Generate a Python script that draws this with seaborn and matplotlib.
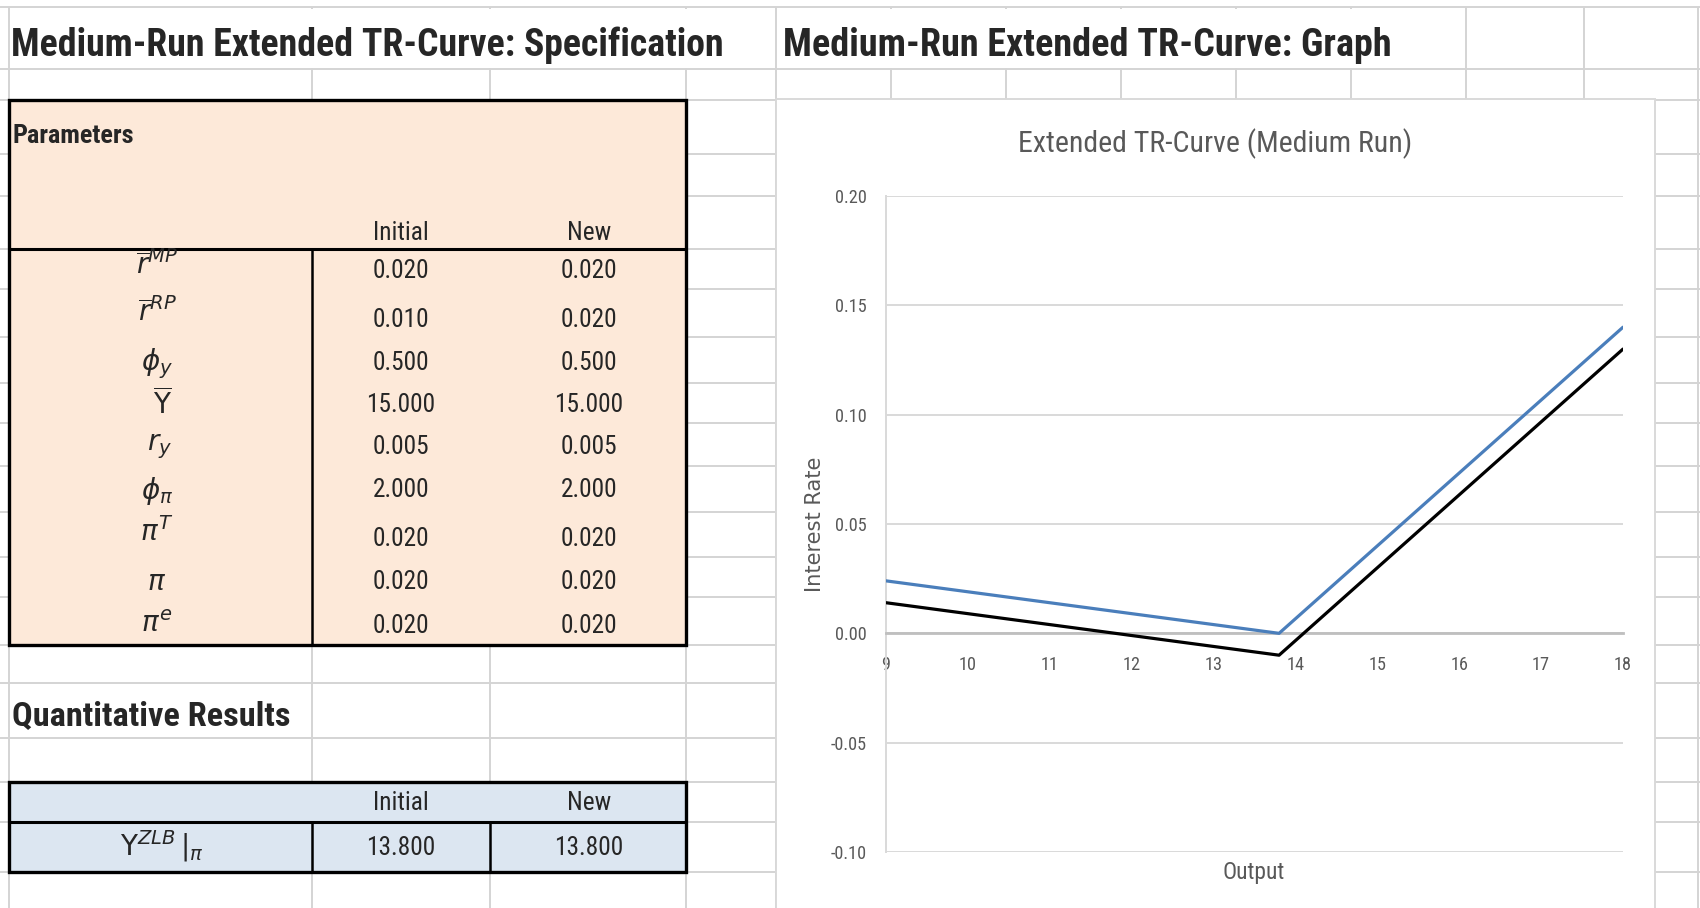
import numpy as np
import pandas as pd
import matplotlib
matplotlib.use("Agg")
import matplotlib.pyplot as plt
import seaborn as sns
from matplotlib import font_manager
from matplotlib.patches import Rectangle

# ---------------- data ----------------
output_pts = [9.0, 13.8, 18.0]
r_initial = [0.014, -0.010, 0.130]
r_new = [0.024, 0.000, 0.140]
series_names = ["Initial", "New"]
y_ticks = [-0.10, -0.05, 0.00, 0.05, 0.10, 0.15, 0.20]
x_ticks = [9, 10, 11, 12, 13, 14, 15, 16, 17, 18]

param_symbols = [r"$\overline{r}^{MP}$", r"$\overline{r}^{RP}$", r"$\phi_y$", r"$\overline{\mathrm{Y}}$",
                 r"$r_y$", r"$\phi_\pi$", r"$\pi^T$", r"$\pi$", r"$\pi^e$"]
param_initial = [0.020, 0.010, 0.500, 15.000, 0.005, 2.000, 0.020, 0.020, 0.020]
param_new = [0.020, 0.020, 0.500, 15.000, 0.005, 2.000, 0.020, 0.020, 0.020]
result_symbol = r"$\mathrm{Y}^{ZLB}\,|_{\pi}$"
result_initial = [13.800]
result_new = [13.800]

left_title = "Medium-Run Extended TR-Curve: Specification"
right_title = "Medium-Run Extended TR-Curve: Graph"
chart_title = "Extended TR-Curve (Medium Run)"

# ---------------- style ----------------
sns.set_style("white")
names = {f.name for f in font_manager.fontManager.ttflist}
NARROW = next((n for n in ["Liberation Sans Narrow", "Roboto Condensed", "Open Sans Condensed"]
               if n in names), "Liberation Sans")
plt.rcParams["font.family"] = [NARROW, "DejaVu Sans"]
plt.rcParams["mathtext.fontset"] = "dejavusans"

W, H = 1700, 908
fig = plt.figure(figsize=(17, 9.08), dpi=100)
renderer = fig.canvas.get_renderer()


def size_for(s, w, family=None, weight="normal", base=20.0):
    t = fig.text(0, 0, s, fontsize=base, family=family or [NARROW, "DejaVu Sans"], weight=weight)
    bb = t.get_window_extent(renderer)
    t.remove()
    return base * w / bb.width


bg = fig.add_axes([0, 0, 1, 1], zorder=0)
bg.set_xlim(0, W)
bg.set_ylim(H, 0)
bg.axis("off")

GRID = "#D4D4D4"
rows = [7, 69, 100, 154, 196, 249, 289, 337, 383, 423, 466, 512, 557, 597, 645, 683, 738, 782, 822, 872]
cols = [9, 312, 490, 686, 776, 891, 1006, 1121, 1236, 1351, 1466, 1584, 1698]

for r in rows:
    bg.hlines(r, 0, W, color=GRID, lw=1.4, zorder=1)
for c in cols:
    bg.vlines(c, rows[0], H, color=GRID, lw=1.4, zorder=1)
# overflowing titles hide the inner grid lines of the title row
bg.add_patch(Rectangle((11, 8.5), 762, 59, facecolor="white", edgecolor="none", zorder=2))
bg.add_patch(Rectangle((778, 8.5), 686, 59, facecolor="white", edgecolor="none", zorder=2))

# parameters table
PEACH = "#FDE9D9"
BLUE = "#DCE6F1"
bg.add_patch(Rectangle((9, 100), 677, 545, facecolor=PEACH, edgecolor="black", lw=2.4, zorder=3))
bg.hlines(249, 9, 686, color="black", lw=2.2, zorder=4)
bg.vlines(312, 249, 645, color="black", lw=1.8, zorder=4)

# results table
bg.add_patch(Rectangle((9, 782), 677, 90, facecolor=BLUE, edgecolor="black", lw=2.4, zorder=3))
bg.hlines(822, 9, 686, color="black", lw=2.2, zorder=4)
bg.vlines([312, 490], 822, 872, color="black", lw=1.8, zorder=4)

# chart frame
bg.add_patch(Rectangle((776, 99), 879, 830, facecolor="white", edgecolor="#D9D9D9", lw=1.4, zorder=5))

# ---------------- sheet text ----------------
ts = size_for(left_title, 710, weight="bold")
bg.text(11, 45, left_title, fontsize=ts, weight="bold", ha="left", va="center", zorder=6)
ts2 = size_for(right_title, 605, weight="bold")
bg.text(783, 45, right_title, fontsize=ts2, weight="bold", ha="left", va="center", zorder=6)

bg.text(13, 136, "Parameters", fontsize=size_for("Parameters", 121, weight="bold"),
        weight="bold", ha="left", va="center", zorder=6)
bg.text(12, 716, "Quantitative Results", fontsize=size_for("Quantitative Results", 278, weight="bold"),
        weight="bold", ha="left", va="center", zorder=6)

vs = size_for("0.020", 57)
col_b, col_c = 401, 589
for xc, lab in zip([col_b, col_c], series_names):
    bg.text(xc, 233, lab, fontsize=vs, ha="center", va="center", zorder=6)
    bg.text(xc, 803, lab, fontsize=vs, ha="center", va="center", zorder=6)

value_y = [271, 320, 363, 405, 447, 490, 539, 582, 626]
sym_y = [265, 312, 364, 404, 447, 491, 532, 583, 625]
sym_x = [157, 157, 157, 163, 160, 157, 157, 157, 157]
for sym, vi, vn, yv, ys, xs in zip(param_symbols, param_initial, param_new, value_y, sym_y, sym_x):
    bg.text(xs, ys, sym, fontsize=20, ha="center", va="center", zorder=6)
    bg.text(col_b, yv, f"{vi:.3f}", fontsize=vs, ha="center", va="center", zorder=6)
    bg.text(col_c, yv, f"{vn:.3f}", fontsize=vs, ha="center", va="center", zorder=6)

bg.text(162, 846, result_symbol, fontsize=20, ha="center", va="center", zorder=6)
bg.text(col_b, 848, f"{result_initial[0]:.3f}", fontsize=vs, ha="center", va="center", zorder=6)
bg.text(col_c, 848, f"{result_new[0]:.3f}", fontsize=vs, ha="center", va="center", zorder=6)

# ---------------- chart ----------------
GRAY_TXT = "#595959"
px_l, px_r, px_t, px_b = 886, 1623, 196, 852
ax = fig.add_axes([px_l / W, (H - px_b) / H, (px_r - px_l) / W, (px_b - px_t) / H], zorder=2)
ax.set_facecolor("none")

df = pd.DataFrame({
    "Output": output_pts * 2,
    "Rate": r_initial + r_new,
    "Series": [series_names[0]] * len(output_pts) + [series_names[1]] * len(output_pts),
})
sns.lineplot(data=df, x="Output", y="Rate", hue="Series",
             palette={series_names[0]: "black", series_names[1]: "#4A7EBB"},
             linewidth=2.3, legend=False, ax=ax, zorder=4)

ax.set_xlim(9, 18)
ax.set_ylim(-0.10, 0.20)
tick_fs = size_for("0.20", 32)
ax.set_yticks(y_ticks, labels=[f"{v:.2f}" for v in y_ticks])
ax.set_xticks(x_ticks, labels=[str(v) for v in x_ticks])
ax.tick_params(axis="y", length=0, pad=13.5, labelsize=tick_fs, labelcolor=GRAY_TXT)
ax.tick_params(axis="x", length=0, pad=16.5, labelsize=tick_fs, labelcolor=GRAY_TXT)
ax.yaxis.grid(True, color="#D9D9D9", lw=1.4)
ax.xaxis.grid(False)
for s in ["top", "right"]:
    ax.spines[s].set_visible(False)
ax.spines["left"].set_color("#D9D9D9")
ax.spines["left"].set_linewidth(1.4)
ax.spines["bottom"].set_position(("data", 0))
ax.spines["bottom"].set_color("#BFBFBF")
ax.spines["bottom"].set_linewidth(2.0)
ax.set_xlabel("")
ax.set_ylabel("")

bg.text(1215, 144, chart_title, fontsize=size_for(chart_title, 393), color=GRAY_TXT,
        ha="center", va="center", zorder=6)
bg.text(1254, 872, "Output", fontsize=size_for("Output", 62), color=GRAY_TXT,
        ha="center", va="center", zorder=6)
lab_fs = size_for("Interest Rate", 136, family="DejaVu Sans")
bg.text(815, 524, "Interest Rate", fontsize=lab_fs, family="DejaVu Sans", color=GRAY_TXT,
        rotation=90, ha="center", va="center", zorder=6)

fig.savefig("out.png", dpi=100)
